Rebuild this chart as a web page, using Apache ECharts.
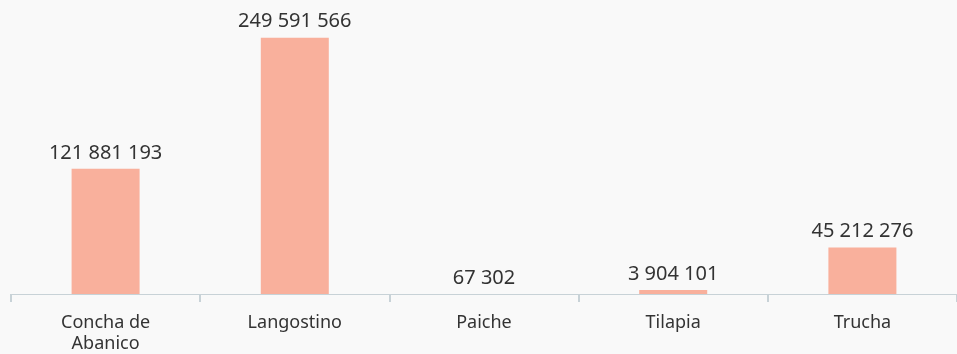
<!DOCTYPE html>
<html>
<head>
<meta charset="utf-8">
<script src="https://cdn.jsdelivr.net/npm/echarts@6/dist/echarts.min.js"></script>
<style>
  html, body { margin: 0; padding: 0; background: #f9f9f9; overflow: hidden; }
  #chart { width: 957px; height: 354px; }
</style>
</head>
<body>
<div id="chart"></div>
<script>
// Production volume by species
const categories = ['Concha de\nAbanico', 'Langostino', 'Paiche', 'Tilapia', 'Trucha'];
const values = [121881193, 249591566, 67302, 3904101, 45212276];

// Thousands separated by a space: 249 591 566
function formatNumber(v) {
  return String(v).replace(/\B(?=(\d{3})+(?!\d))/g, ' ');
}

const chart = echarts.init(document.getElementById('chart'), null, { renderer: 'canvas' });
chart.setOption({
  backgroundColor: '#f9f9f9',
  animation: false,
  textStyle: { fontFamily: 'Noto Sans' },
  grid: { left: 11, width: 952, top: 27, bottom: 58, containLabel: false },
  xAxis: {
    type: 'category',
    data: categories,
    axisLine: { show: true, lineStyle: { color: '#c8d2d7', width: 1 } },
    axisTick: { show: true, length: 8, lineStyle: { color: '#c8d2d7', width: 2 } },
    axisLabel: {
      color: '#333333',
      fontSize: 18,
      fontFamily: 'Noto Sans',
      margin: 18,
      lineHeight: 21,
      interval: 0
    }
  },
  yAxis: {
    type: 'value',
    min: 0,
    max: 260000000,
    show: false,
    splitLine: { show: false }
  },
  series: [{
    type: 'bar',
    data: values,
    barWidth: 68,
    itemStyle: { color: '#f9b09c' },
    label: {
      show: true,
      position: 'top',
      distance: 6,
      color: '#333333',
      fontSize: 20,
      fontFamily: 'Noto Sans',
      formatter: p => formatNumber(p.value)
    }
  }]
});
</script>
</body>
</html>
